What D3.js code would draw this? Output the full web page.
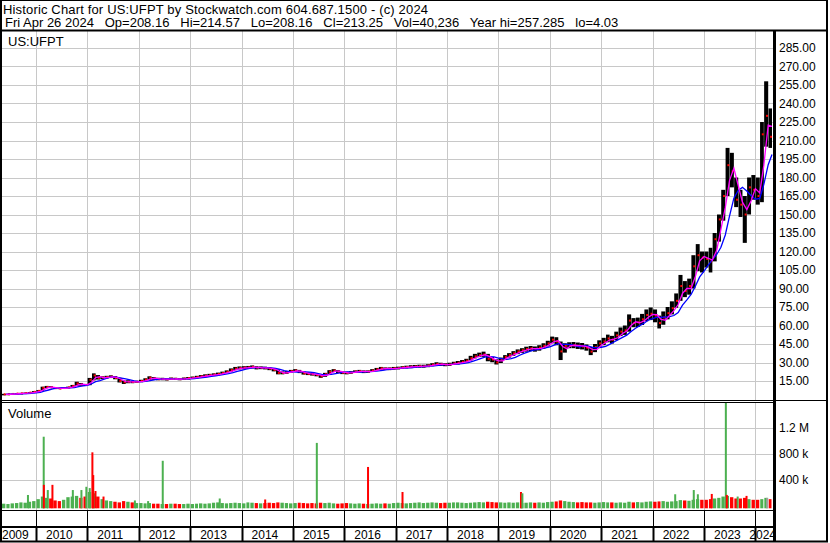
<!DOCTYPE html>
<html>
<head>
<meta charset="utf-8">
<script src="https://cdn.jsdelivr.net/npm/d3@7"></script>
<style>
  body { margin: 0; background: #ffffff; }
  svg { display: block; font-family: Arial, "Liberation Sans", sans-serif; }
</style>
</head>
<body>
<svg id="chart" width="830" height="543"></svg>
<script>
// ---- data (monthly, May 2009 .. Apr 2024) ----
const firstMonth = new Date(2009, 4, 1);
const lastDay = new Date(2024, 3, 28);

const titleLine = 'Historic Chart for US:UFPT by Stockwatch.com 604.687.1500 - (c) 2024';
const quoteLine = 'Fri Apr 26 2024   Op=208.16   Hi=214.57   Lo=208.16   Cl=213.25   Vol=40,236   Year hi=257.285   lo=4.03';
const symbol = 'US:UFPT';

const closes = [
  4.2, 4.3, 4.5, 4.8, 5.0, 5.2, 5.6, 6.2,
  7.0, 9.5, 10.2, 9.8, 9.2, 8.9, 9.3, 9.8, 11.0, 13.0, 12.0, 11.8,
  16.0, 19.5, 17.5, 17.8, 18.2, 18.5, 17.5, 15.0, 14.0, 14.5, 14.2, 14.4,
  15.0, 16.2, 17.7, 17.0, 16.5, 16.6, 16.4, 16.8, 16.7, 16.5, 16.9, 17.3,
  17.6, 18.2, 18.8, 19.3, 19.8, 20.2, 20.7, 21.5, 22.5, 23.9, 25.0, 25.5,
  25.8, 26.0, 26.5, 25.6, 25.8, 25.5, 25.0, 24.0, 21.5, 21.5, 22.0, 23.0,
  23.5, 22.5, 21.2, 20.8, 20.5, 19.9, 18.8, 20.5, 22.5, 23.5, 22.5, 21.7,
  21.5, 22.0, 22.6, 23.0, 22.5, 22.6, 23.5, 24.5, 25.3, 25.0, 25.0, 25.3,
  25.5, 26.0, 26.3, 26.6, 26.8, 27.0, 27.0, 27.5, 28.2, 28.8, 28.5, 28.2,
  28.5, 29.3, 29.8, 30.5, 31.5, 33.5, 35.0, 36.0, 36.5, 33.0, 32.5, 30.0,
  32.5, 34.5, 36.0, 37.5, 39.0, 40.0, 41.0, 41.5, 41.0, 42.0, 43.5, 45.5,
  48.5, 47.0, 39.0, 43.5, 44.0, 44.0, 43.5, 43.0, 42.0, 38.8, 42.5, 45.5,
  47.0, 49.5, 48.5, 52.0, 55.0, 56.0, 64.0, 62.0, 62.5, 65.0, 68.5, 69.5,
  68.0, 62.0, 66.5, 70.0, 74.0, 80.0, 92.0, 88.0, 92.0, 108.0, 117.0, 115.0,
  114, 112, 130, 146, 165, 190, 185, 162, 158, 150, 172, 170,
  165, 215, 230, 213
];

const highs = [
  4.6, 4.7, 4.9, 5.2, 5.4, 5.7, 6.0, 6.8,
  7.6, 10.4, 11.0, 10.8, 10.0, 9.6, 9.9, 10.4, 11.8, 14.4, 13.4, 12.6,
  17.5, 21.2, 19.8, 18.8, 19.2, 19.6, 19.0, 17.6, 15.4, 15.6, 15.2, 15.2,
  16.0, 17.2, 18.8, 18.2, 17.6, 17.6, 17.4, 17.8, 17.6, 17.4, 17.8, 18.2,
  18.6, 19.2, 19.8, 20.4, 20.8, 21.2, 21.8, 22.6, 23.6, 25.2, 26.4, 26.8,
  27.0, 27.2, 27.6, 27.0, 26.8, 26.6, 26.2, 25.4, 24.4, 22.8, 23.0, 24.0,
  24.6, 24.0, 22.8, 22.0, 21.6, 21.0, 20.0, 21.6, 23.8, 24.6, 23.8, 22.8,
  22.6, 23.0, 23.6, 24.0, 23.6, 23.6, 24.6, 25.6, 26.4, 26.0, 26.0, 26.4,
  26.6, 27.0, 27.4, 27.8, 28.0, 28.2, 28.2, 28.6, 29.4, 30.2, 29.8, 29.4,
  29.8, 30.6, 31.2, 32.0, 33.0, 35.4, 37.0, 38.0, 38.8, 37.0, 34.4, 32.6,
  34.0, 36.0, 37.6, 39.2, 40.6, 41.6, 42.8, 43.4, 43.0, 44.0, 45.6, 47.6,
  51.0, 50.5, 47.0, 45.6, 46.4, 46.6, 46.2, 45.8, 44.6, 42.6, 45.0, 48.0,
  50.0, 52.6, 51.6, 55.0, 58.4, 60.0, 69.0, 66.0, 66.4, 69.4, 73.0, 74.6,
  73.0, 68.0, 71.4, 75.0, 79.6, 86.0, 101.0, 96.0, 98.0, 117.0, 126.0, 120.0,
  120, 123, 135, 150, 170, 204, 200, 180, 170, 165, 180, 182,
  180, 225, 258, 236
];

const lows = [
  4.0, 4.0, 4.2, 4.4, 4.7, 4.9, 5.1, 5.6,
  6.2, 7.0, 9.2, 9.2, 8.6, 8.4, 8.6, 9.0, 9.4, 11.0, 11.2, 11.0,
  11.6, 15.5, 16.2, 16.6, 17.0, 17.4, 16.4, 13.8, 12.6, 13.2, 13.2, 13.6,
  14.0, 14.8, 15.8, 16.0, 15.6, 15.6, 15.4, 15.8, 15.8, 15.6, 15.8, 16.2,
  16.6, 17.2, 17.8, 18.2, 18.8, 19.2, 19.6, 20.4, 21.4, 22.6, 23.8, 24.4,
  24.6, 24.8, 25.2, 24.4, 24.6, 24.4, 23.8, 22.8, 20.4, 20.4, 20.8, 21.8,
  22.4, 21.4, 20.2, 19.8, 19.4, 18.8, 17.6, 18.4, 20.4, 22.4, 21.4, 20.6,
  20.4, 20.8, 21.6, 22.0, 21.4, 21.6, 22.4, 23.4, 24.2, 24.0, 23.8, 24.2,
  24.4, 24.8, 25.2, 25.4, 25.6, 25.8, 25.8, 26.2, 27.0, 27.6, 27.2, 27.0,
  27.2, 28.0, 28.4, 29.0, 30.0, 31.6, 33.4, 34.4, 34.6, 31.0, 30.2, 28.4,
  29.6, 32.0, 34.0, 35.4, 36.8, 37.8, 38.8, 39.2, 38.8, 39.6, 41.2, 43.0,
  45.6, 44.0, 32.0, 38.0, 41.6, 41.6, 41.0, 40.6, 39.6, 36.0, 38.4, 42.6,
  44.0, 46.4, 45.4, 48.0, 51.4, 52.4, 55.0, 58.6, 58.8, 60.4, 63.4, 64.4,
  62.6, 57.6, 60.6, 65.0, 69.0, 74.4, 80.0, 83.0, 85.0, 90.0, 104.0, 103.0,
  107, 103, 112, 128, 145, 165, 172, 156, 148, 127, 150, 162,
  158, 160, 205, 204
];

// typical daily volume for each month, thousands of shares
const volumes = [
  40, 35, 45, 50, 60, 55, 70, 80,
  110, 150, 130, 120, 90, 80, 100, 140, 150, 160, 130, 150,
  220, 200, 150, 110, 90, 80, 70, 60, 80, 70, 60, 50,
  50, 45, 50, 40, 40, 35, 35, 40, 40, 35, 35, 40,
  35, 40, 45, 40, 45, 55, 60, 50, 45, 50, 55, 50,
  45, 60, 55, 50, 45, 50, 55, 50, 60, 55, 50, 45,
  50, 55, 50, 45, 50, 45, 55, 50, 55, 45, 40, 45,
  50, 45, 40, 45, 40, 35, 40, 45, 40, 45, 40, 50,
  55, 50, 45, 50, 55, 60, 50, 55, 60, 55, 50, 55,
  55, 60, 60, 55, 50, 55, 60, 65, 60, 70, 65, 60,
  60, 55, 60, 55, 60, 50, 55, 60, 55, 60, 55, 65,
  70, 75, 90, 80, 70, 65, 60, 65, 60, 60, 55, 60,
  65, 60, 60, 55, 60, 55, 70, 60, 65, 60, 70, 75,
  70, 75, 80, 70, 75, 80, 95, 90, 85, 100, 110, 100,
  100, 110, 120, 130, 150, 160, 140, 120, 120, 130, 110, 100,
  100, 110, 130, 110
];

// single heavy-volume days (thousands)
const spikeDates = ['2009-11-05', '2010-02-25', '2010-02-26', '2010-03-26', '2010-04-28', '2010-09-20',
  '2010-11-20', '2010-12-25', '2011-01-18', '2011-02-06', '2011-02-12', '2011-02-28', '2011-04-26',
  '2011-12-05', '2012-03-08', '2012-06-20', '2013-07-30', '2014-06-18', '2015-06-20', '2016-06-18',
  '2017-02-18', '2019-06-10', '2019-06-20', '2022-06-10', '2022-10-20', '2022-11-18', '2023-02-25',
  '2023-06-05', '2023-06-12', '2023-08-28', '2023-10-30', '2024-03-25'];
const spikeVolumes = [174, 1070, 330, 250, 330, 250, 250, 300, 280, 830, 480, 235, 150,
  90, 80, 700, 120, 105, 975, 605, 220, 220, 200, 185, 250, 185, 190,
  1700, 175, 150, 160, 130];
const spikeMoves = ['up', 'up', 'down', 'up', 'down', 'up', 'up', 'up', 'up', 'down', 'down', 'down', 'down',
  'up', 'up', 'up', 'up', 'down', 'up', 'down', 'down', 'down', 'up', 'up', 'up', 'up', 'down',
  'up', 'down', 'up', 'down', 'flat'];

const priceTicks = [15, 30, 45, 60, 75, 90, 105, 120, 135, 150, 165, 180, 195, 210, 225, 240, 255, 270, 285];
const volTicks = [400, 800, 1200];
const volTickLabels = ['400 k', '800 k', '1.2 M'];
const yearLabels = ['2009', '2010', '2011', '2012', '2013', '2014', '2015', '2016', '2017', '2018',
  '2019', '2020', '2021', '2022', '2023', '2024'];

// ---- layout ----
const plotLeft = 1.5, plotRight = 772;
const priceTop = 31, priceBottom = 400;
const volTop = 402, volBottom = 510;
const axisRight = 776;

const moveColor = { up: '#4cb050', down: '#ff0000', flat: '#a0a0a0' };
const gridColor = '#c8c8c8';

const svg = d3.select('#chart');
svg.append('rect').attr('width', 830).attr('height', 543).attr('fill', '#ffffff');

const x = d3.scaleTime().domain([firstMonth, lastDay]).range([plotLeft, plotRight]);
const y = d3.scaleLinear().domain([0, 300]).range([399.5, 29.5]);
const yv = d3.scaleLinear().domain([0, 1604]).range([506.3, 402]);

const months = closes.map((c, i) => {
  const start = d3.timeMonth.offset(firstMonth, i);
  const next = d3.timeMonth.offset(firstMonth, i + 1);
  const end = next > lastDay ? lastDay : next;
  const prev = i > 0 ? closes[i - 1] : c;
  return { start, end, close: c, hi: highs[i], lo: lows[i], vol: volumes[i], move: c >= prev ? 'up' : 'down' };
});

// moving averages of the monthly closes (short ~ magenta, long ~ blue)
function movingAvg(vals, n) {
  return vals.map((v, i) => d3.mean(vals.slice(Math.max(0, i - n + 1), i + 1)));
}
const maShort = movingAvg(closes, 2);
const maLong = movingAvg(closes, 5);

// clip areas
const defs = svg.append('defs');
defs.append('clipPath').attr('id', 'clipPrice').append('rect')
  .attr('x', 2).attr('y', priceTop).attr('width', 771).attr('height', priceBottom - priceTop);
defs.append('clipPath').attr('id', 'clipVol').append('rect')
  .attr('x', 2).attr('y', volTop + 1).attr('width', 771).attr('height', volBottom - volTop - 1);

const yearDates = yearLabels.map(s => new Date(+s, 0, 1));
const gridYears = yearDates.slice(1);

// ---- grids ----
const grid = svg.append('g').attr('stroke', gridColor).attr('stroke-width', 1);
grid.selectAll('.pg').data(priceTicks).enter().append('line')
  .attr('x1', 2).attr('x2', 773)
  .attr('y1', d => Math.round(y(d)) + 0.5).attr('y2', d => Math.round(y(d)) + 0.5);
grid.selectAll('.vg').data(volTicks).enter().append('line')
  .attr('x1', 2).attr('x2', 773)
  .attr('y1', d => Math.round(yv(d)) + 0.5).attr('y2', d => Math.round(yv(d)) + 0.5);
grid.selectAll('.xg').data(gridYears).enter().append('line')
  .attr('x1', d => Math.round(x(d)) + 0.5).attr('x2', d => Math.round(x(d)) + 0.5)
  .attr('y1', priceTop).attr('y2', priceBottom);
grid.selectAll('.xv').data(gridYears).enter().append('line')
  .attr('x1', d => Math.round(x(d)) + 0.5).attr('x2', d => Math.round(x(d)) + 0.5)
  .attr('y1', volTop).attr('y2', volBottom);

// ---- price bars ----
const price = svg.append('g').attr('clip-path', 'url(#clipPrice)');
price.selectAll('.bar').data(months).enter().append('rect')
  .attr('x', d => x(d.start) + 0.3)
  .attr('width', d => Math.max(1, x(d.end) - x(d.start) - 0.3))
  .attr('y', d => y(d.hi))
  .attr('height', d => Math.max(1.5, y(d.lo) - y(d.hi)))
  .attr('fill', '#000000');
price.selectAll('.tick').data(months).enter().append('rect')
  .attr('x', d => x(d.start) + (x(d.end) - x(d.start)) / 2)
  .attr('width', 2)
  .attr('y', d => y(d.close) - 1)
  .attr('height', 2)
  .attr('fill', '#ff0000');

// moving average lines, plotted at month end
const maLine = d3.line().x(d => x(d.end)).y(d => y(d.v));
price.append('path')
  .attr('d', maLine(months.map((m, i) => ({ end: m.end, v: maLong[i] }))))
  .attr('fill', 'none').attr('stroke', '#0000ff').attr('stroke-width', 1.3);
price.append('path')
  .attr('d', maLine(months.map((m, i) => ({ end: m.end, v: maShort[i] }))))
  .attr('fill', 'none').attr('stroke', '#ff00ff').attr('stroke-width', 1.3);

// ---- volume ----
const vol = svg.append('g').attr('clip-path', 'url(#clipVol)');
vol.selectAll('.vbar').data(months).enter().append('rect')
  .attr('x', d => x(d.start) + 0.5)
  .attr('width', d => Math.max(1, x(d.end) - x(d.start) - 1))
  .attr('y', d => yv(d.vol))
  .attr('height', d => yv(0) + 2 - yv(d.vol))
  .attr('fill', d => moveColor[d.move]);
vol.selectAll('.spike').data(spikeDates).enter().append('rect')
  .attr('x', d => x(new Date(d)) - 1)
  .attr('width', 2)
  .attr('y', (d, i) => yv(spikeVolumes[i]))
  .attr('height', (d, i) => yv(0) + 2 - yv(spikeVolumes[i]))
  .attr('fill', (d, i) => moveColor[spikeMoves[i]]);

// ---- frame lines ----
const frame = svg.append('g').attr('stroke', '#000000');
frame.append('line').attr('x1', 0).attr('x2', 828).attr('y1', 0.5).attr('y2', 0.5);
frame.append('line').attr('x1', 0).attr('x2', 828).attr('y1', 30.5).attr('y2', 30.5).attr('stroke-width', 2);
frame.append('line').attr('x1', 1).attr('x2', 1).attr('y1', 0).attr('y2', 542).attr('stroke-width', 2);
frame.append('line').attr('x1', 827).attr('x2', 827).attr('y1', 0).attr('y2', 542).attr('stroke-width', 2);
frame.append('line').attr('x1', 0).attr('x2', 828).attr('y1', 400.5).attr('y2', 400.5);
frame.append('line').attr('x1', 0).attr('x2', 773).attr('y1', 402.5).attr('y2', 402.5);
frame.append('line').attr('x1', 0).attr('x2', 773).attr('y1', 510.5).attr('y2', 510.5);
frame.append('line').attr('x1', 0).attr('x2', 773).attr('y1', 527).attr('y2', 527).attr('stroke-width', 2);
frame.append('line').attr('x1', 0).attr('x2', 828).attr('y1', 541.5).attr('y2', 541.5).attr('stroke-width', 2);
frame.append('rect').attr('x', 773).attr('y', 30).attr('width', 3).attr('height', 512)
  .attr('fill', '#000000').attr('stroke', 'none');

// year separators in the date strip
frame.selectAll('.ys').data(gridYears).enter().append('line')
  .attr('x1', d => Math.round(x(d)) + 0.5).attr('x2', d => Math.round(x(d)) + 0.5)
  .attr('y1', 510).attr('y2', 527);
frame.selectAll('.yl').data(gridYears).enter().append('line')
  .attr('x1', d => Math.round(x(d)) + 0.5).attr('x2', d => Math.round(x(d)) + 0.5)
  .attr('y1', 527).attr('y2', 541).attr('stroke-width', 2);

// ---- texts ----
const txt = svg.append('g').attr('fill', '#000000').attr('font-size', '12px');
txt.append('text').attr('font-size', '13px')
  .attr('textLength', 425).attr('lengthAdjust', 'spacing')
  .attr('x', 3).attr('y', 13.5).text(titleLine);
txt.append('text').attr('xml:space', 'preserve').attr('font-size', '13px')
  .attr('x', 5).attr('y', 27).text(quoteLine);
txt.append('text').attr('x', 8).attr('y', 45.5).attr('font-size', '13px').text(symbol);
txt.append('text').attr('x', 8).attr('y', 418).attr('font-size', '13px').text('Volume');

// price axis labels
txt.selectAll('.pl').data(priceTicks).enter().append('text')
  .attr('x', 779).attr('y', d => y(d)).attr('dy', '0.35em')
  .text(d => d3.format('.2f')(d));
// volume axis labels
txt.selectAll('.vl').data(volTicks).enter().append('text')
  .attr('x', 779).attr('y', d => yv(d)).attr('dy', '0.35em')
  .text((d, i) => volTickLabels[i]);

// year labels, kept inside the plot
txt.selectAll('.yr').data(yearLabels).enter().append('text')
  .attr('y', 539)
  .text(d => d)
  .attr('x', function (d, i) {
    const w = this.getComputedTextLength();
    return Math.min(Math.max(2, x(yearDates[i]) + 10), axisRight - w);
  });
</script>
</body>
</html>
